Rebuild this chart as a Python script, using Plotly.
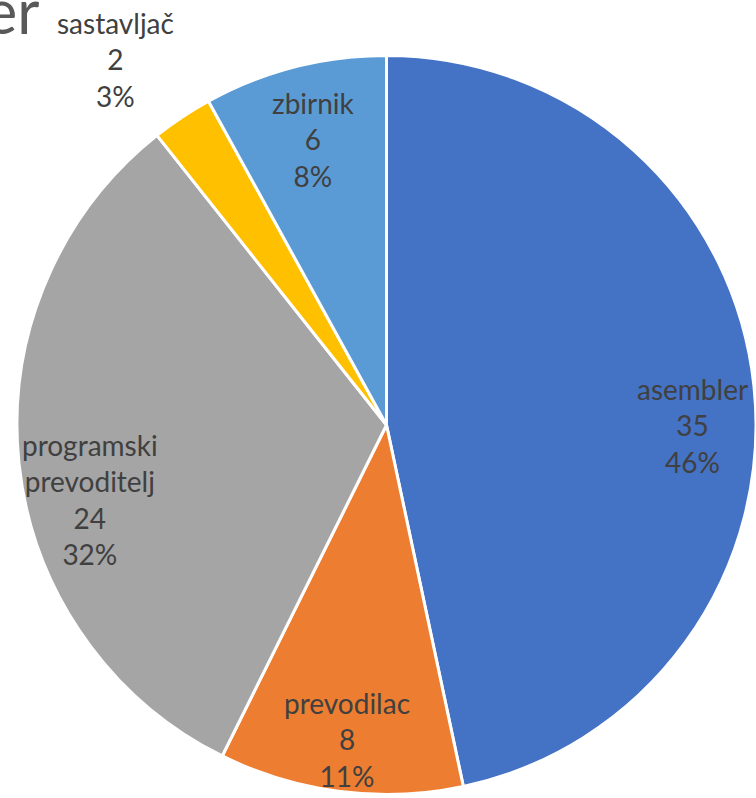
import math
import plotly.graph_objects as go

labels = ["asembler", "prevodilac", "programski<br>prevoditelj", "sastavljač", "zbirnik"]
values = [35, 8, 24, 2, 6]
percents = ["46%", "11%", "32%", "3%", "8%"]
colors = ["#4472C4", "#ED7D31", "#A5A5A5", "#FFC000", "#5B9BD5"]

# how far out each data label sits (fraction of the radius) and small nudges in px
label_radius = [0.824, 0.857, 0.825, 1.23, 0.797]
label_nudge = [(3, -32), (0, 0), (7, -43), (-19, -13), (0, 0)]

W, H = 756, 798
margin = dict(l=17, r=0, t=55, b=3)
pw = W - margin["l"] - margin["r"]
ph = H - margin["t"] - margin["b"]
R = min(pw, ph) / 2

fig = go.Figure(go.Pie(
    labels=labels,
    values=values,
    textinfo="none",
    sort=False,
    direction="clockwise",
    rotation=0,
    marker=dict(colors=colors, line=dict(color="white", width=3)),
    showlegend=False,
    hoverinfo="label+value+percent",
))

# data labels, placed at each slice's mid angle
total = sum(values)
cum = 0
for lab, v, p, f, (dx, dy) in zip(labels, values, percents, label_radius, label_nudge):
    a = (cum + v / 2) / total * 2 * math.pi
    cum += v
    fig.add_annotation(
        text=f"{lab}<br>{v}<br>{p}",
        x=0.5 + f * R * math.sin(a) / pw,
        y=0.5 + f * R * math.cos(a) / ph,
        xref="paper", yref="paper",
        xanchor="center", yanchor="middle",
        showarrow=False, xshift=dx, yshift=dy,
        font=dict(family="Lato", size=28, color="#404040"),
    )

# the title is cut off by the crop, only its tail shows
fig.add_annotation(
    text="er", x=0, y=1, xref="paper", yref="paper",
    xanchor="right", yanchor="bottom", showarrow=False,
    font=dict(family="Lato", size=61, color="#595959"),
    xshift=24, yshift=6,
)

fig.update_layout(
    width=W, height=H,
    margin=margin,
    paper_bgcolor="white",
    plot_bgcolor="white",
)

# page has a default 8px body margin; drop it so the figure fills the window
fig.write_html("out.html", config={"displayModeBar": False},
               post_script="document.body.style.margin='0';")
